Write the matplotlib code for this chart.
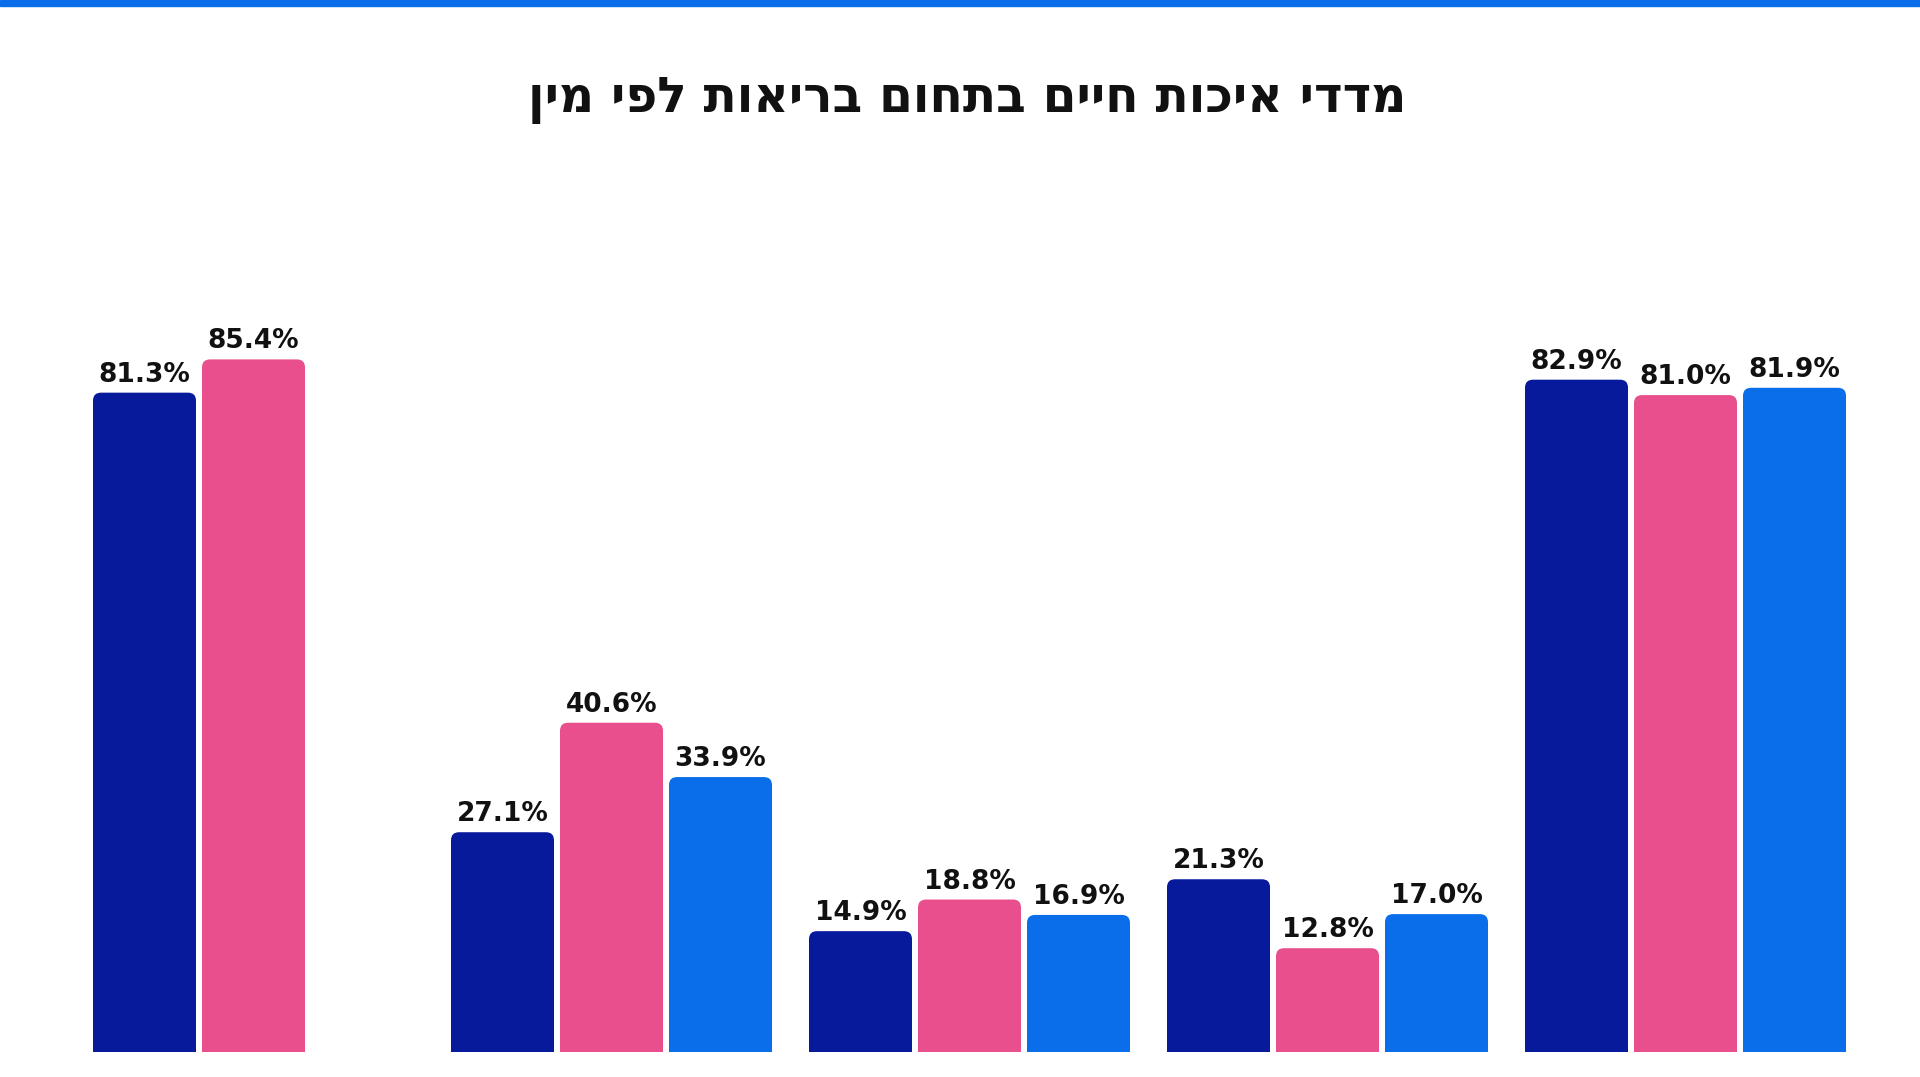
import matplotlib
matplotlib.use("Agg")
import matplotlib.pyplot as plt
from matplotlib.patches import FancyBboxPatch, Rectangle

title = "מדדי איכות חיים בתחום בריאות לפי מין"
groups = ["g1", "g2", "g3", "g4", "g5"]
series_a = [81.3, 27.1, 14.9, 21.3, 82.9]   # navy
series_b = [85.4, 40.6, 18.8, 12.8, 81.0]   # pink
series_c = [None, 33.9, 16.9, 17.0, 81.9]   # blue
colors = ["#071A9C", "#E84F8C", "#0A6EEA"]

W, H = 1920, 1077
fig = plt.figure(figsize=(W / 100, H / 100), dpi=100)
fig.patch.set_facecolor("white")

# top stripe
fig.patches.append(Rectangle((0, 1 - 6 / H), 1, 6 / H, transform=fig.transFigure,
                             color="#0A6EEA", zorder=5))

ax_left, ax_right = 74.5, 1864.5
ax_bottom, ax_top = 1052, 241
ax = fig.add_axes([ax_left / W, (H - ax_bottom) / H, (ax_right - ax_left) / W, (ax_bottom - ax_top) / H])
ax.set_xlim(-0.5, len(groups) - 0.5)
ax.set_ylim(0, 100)
ax.axis("off")

step = 109 / 358
width = 103 / 358
px_x = (ax_right - ax_left) / len(groups)
px_y = (ax_bottom - ax_top) / 100.0
r_px = 8
rx = r_px / px_x
aspect = px_x / px_y

for si, (vals, col) in enumerate(zip([series_a, series_b, series_c], colors)):
    xs = [i + (si - 1) * step for i, v in enumerate(vals) if v is not None]
    hs = [v for v in vals if v is not None]
    bars = ax.bar(xs, hs, width=width, color=col, alpha=0)
    for b, v in zip(bars, hs):
        ext = 2.0
        p = FancyBboxPatch((b.get_x(), -ext), b.get_width(), b.get_height() + ext,
                           boxstyle=f"round,pad=0,rounding_size={rx}",
                           mutation_aspect=aspect, facecolor=col, edgecolor="none",
                           clip_on=True)
        ax.add_patch(p)
        p.set_clip_box(ax.bbox)
        ax.annotate(f"{v:.1f}%", (b.get_x() + b.get_width() / 2, v),
                    xytext=(0, 11), textcoords="offset pixels",
                    ha="center", va="baseline", fontsize=19, fontweight="bold",
                    family=["DejaVu Sans"], color="#111111")

fig.text(967 / W, 1 - 100 / H, title[::-1], ha="center", va="center",
         fontsize=35, fontweight="bold", family=["DejaVu Sans"],
         color="#111111")

fig.savefig("out.png", dpi=100, facecolor="white")
